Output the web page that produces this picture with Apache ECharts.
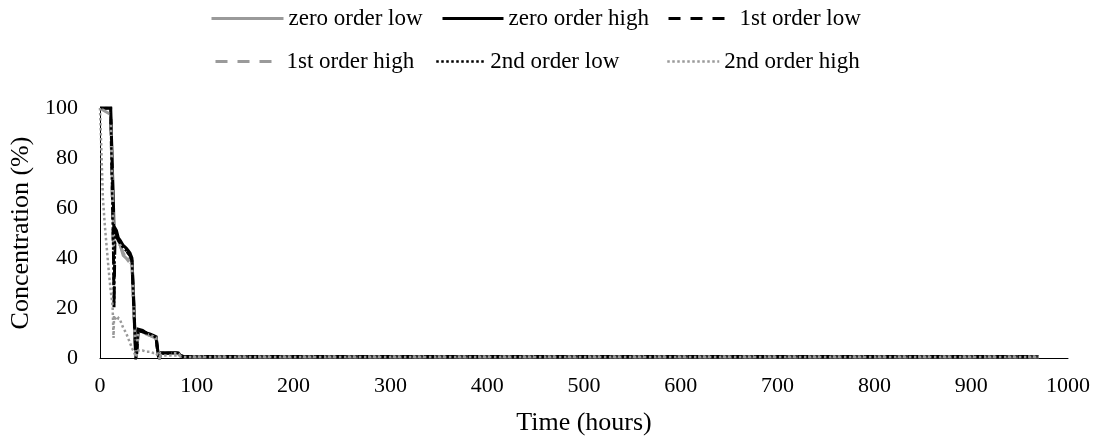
<!DOCTYPE html>
<html>
<head>
<meta charset="utf-8">
<script src="https://cdn.jsdelivr.net/npm/echarts@6/dist/echarts.min.js"></script>
<style>
html,body{margin:0;padding:0;background:#fff;}
#chart{width:1104px;height:441px;}
</style>
</head>
<body>
<div id="chart"></div>
<script>
// Time points (hours)
var times = [0, 3, 5, 7, 9, 11, 13, 14, 14.5, 15.5, 17, 19, 21, 24, 27, 29, 31, 33, 35, 37, 38, 39.5, 44, 48, 52, 55, 58, 60, 61.5, 63, 70, 77, 81, 83, 86, 90, 970];

// Concentration (%) for each series
var zeroLow    = [100,100,100,100,100,100,100, 55, 49, 50, 49, 47, 45, 41, 40, 39, 40, 38, 18, 0, 3, 11, 10.5, 9.5, 9, 8.5, 8, 1.5, 0, 1.8, 1.9, 2, 1.8, 0.8, 0.5, 0.5, 0.5];
var zeroHigh   = [100,100,100,100,100,100,100, 60, 50, 52, 51, 48, 47, 45, 44, 43, 42, 40, 22, 0, 2, 11.5, 11, 10, 9.5, 9, 8.5, 2, 0, 2, 2, 2.2, 2, 1, 0.6, 0.6, 0.6];
var firstLow   = [100,100,100,100,100,100,100, 40, 20, 50, 50, 47, 46, 44, 43, 42, 41, 39, 20, 0, 4, 11, 10.5, 10, 9.5, 9, 8, 1, 0.2, 2, 2, 2, 1.9, 1, 0.6, 0.6, 0.6];
var firstHigh  = [100, 99.2, 98.8, 98.3, 97.8, 97.4, 97, 50, 46, 48, 47, 46, 45, 42, 40, 40, 39, 37, 18, 0, 3, 10.5, 10, 9.5, 9, 8.5, 8, 1.5, 0.1, 1.8, 1.8, 1.9, 1.7, 0.8, 0.5, 0.5, 0.5];
var secondLow  = [100,100,100,100,100,100,100, 35, 22, 49, 50, 47, 46, 44, 43, 42, 41, 39, 19, 0, 3.5, 11, 10.5, 10, 9.5, 9, 8, 1, 0.2, 2, 2, 2, 1.9, 1, 0.6, 0.6, 0.6];
var secondHigh = [100, 64, 53, 44, 35, 27, 21, 8, 17, 16, 15, 16, 15, 12, 10, 8, 6, 4, 2.5, 0.5, 1, 3, 3, 2.5, 2.5, 2, 2, 0.5, 0.3, 1, 1, 1, 1, 0.6, 0.4, 0.4, 0.4];

var seriesNames = ['zero order low', 'zero order high', '1st order low', '1st order high', '2nd order low', '2nd order high'];
var xTicks = [0, 100, 200, 300, 400, 500, 600, 700, 800, 900, 1000];
var yTicks = [0, 20, 40, 60, 80, 100];

var FONT = "'Liberation Serif', 'Times New Roman', serif";
var GRAY = '#9a9a9a';
var BLACK = '#000000';

var seriesStyles = [
  {color: GRAY,  type: 'solid',   width: 3},
  {color: BLACK, type: 'solid',   width: 3},
  {color: BLACK, type: [12, 10],  width: 3},
  {color: GRAY,  type: [12, 10],  width: 3},
  {color: BLACK, type: [2.5, 2.5], width: 2.5},
  {color: GRAY,  type: [2.5, 2.5], width: 2.5}
];
var seriesValues = [zeroLow, zeroHigh, firstLow, firstHigh, secondLow, secondHigh];

var legendPos = [
  {left: 210, top: 7,  w: 72},
  {left: 441, top: 7,  w: 61},
  {left: 667, top: 7,  w: 66},
  {left: 214, top: 50, w: 66},
  {left: 435, top: 50, w: 49},
  {left: 666, top: 50, w: 52}
];

var legends = seriesNames.map(function (n, i) {
  return {
    data: [n],
    left: legendPos[i].left,
    top: legendPos[i].top,
    itemWidth: legendPos[i].w,
    itemHeight: 14,
    padding: 0,
    selectedMode: false,
    itemStyle: {opacity: 0},
    lineStyle: {width: seriesStyles[i].width},
    textStyle: {fontFamily: FONT, fontSize: 23, color: '#000', lineHeight: 22}
  };
});

var series = seriesNames.map(function (n, i) {
  var st = seriesStyles[i];
  return {
    name: n,
    type: 'line',
    symbol: 'none',
    showSymbol: false,
    data: times.map(function (t, k) { return [t, seriesValues[i][k]]; }),
    lineStyle: {color: st.color, type: st.type, width: st.width, cap: 'butt', join: 'miter'},
    itemStyle: {color: st.color},
    z: 2 + i
  };
});

var chart = echarts.init(document.getElementById('chart'), null, {renderer: 'canvas'});
chart.setOption({
  animation: false,
  backgroundColor: '#fff',
  legend: legends,
  grid: {left: 100, right: 36, top: 108, bottom: 83, containLabel: false},
  xAxis: {
    type: 'value',
    min: xTicks[0], max: xTicks[xTicks.length - 1], interval: 100,
    name: 'Time (hours)', nameLocation: 'middle', nameGap: 52,
    nameTextStyle: {fontFamily: FONT, fontSize: 26, color: '#000'},
    axisLine: {show: true, lineStyle: {color: '#000', width: 1}},
    axisTick: {show: false},
    splitLine: {show: false},
    axisLabel: {fontFamily: FONT, fontSize: 22, color: '#000', margin: 17,
      formatter: function (v) { return String(v); }}
  },
  yAxis: {
    type: 'value',
    min: yTicks[0], max: yTicks[yTicks.length - 1], interval: 20,
    name: 'Concentration (%)', nameLocation: 'middle', nameGap: 64, nameRotate: 90,
    nameTextStyle: {fontFamily: FONT, fontSize: 26, color: '#000'},
    axisLine: {show: true, lineStyle: {color: '#000', width: 1}},
    axisTick: {show: false},
    splitLine: {show: false},
    axisLabel: {fontFamily: FONT, fontSize: 22, color: '#000', margin: 22}
  },
  series: series
});
</script>
</body>
</html>
